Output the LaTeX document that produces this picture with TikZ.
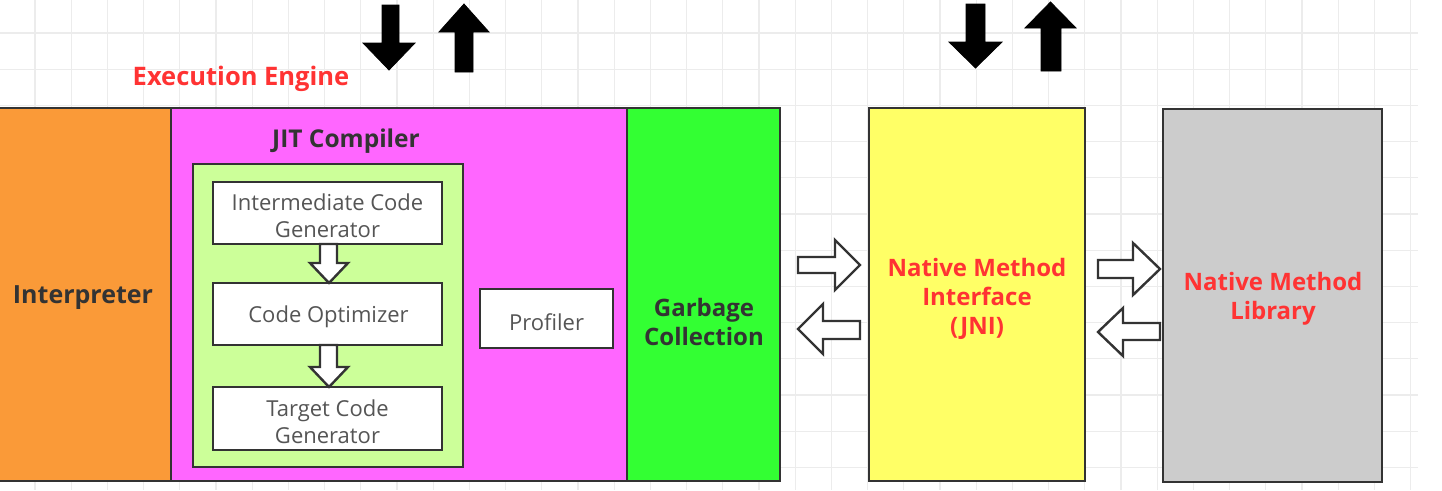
\documentclass[tikz,border=0pt]{standalone}
\usepackage{fontspec}
\setmainfont{Open Sans}
\definecolor{cOrange}{RGB}{250,154,56}
\definecolor{cMagenta}{RGB}{255,102,255}
\definecolor{cGreen}{RGB}{51,255,51}
\definecolor{cLight}{RGB}{204,255,153}
\definecolor{cYellow}{RGB}{255,255,102}
\definecolor{cGray}{RGB}{204,204,204}
\definecolor{cRed}{RGB}{255,51,51}
\definecolor{cDark}{RGB}{51,51,51}
\definecolor{cText}{RGB}{85,85,85}
\definecolor{cGrid}{RGB}{236,236,236}
\begin{document}
\begin{tikzpicture}[x=1pt,y=-1pt,
  box/.style={draw=cDark,line width=2.6pt,inner sep=0pt,align=center},
  smallbox/.style={box,fill=white},
  smalltxt/.style={inner sep=0pt,align=center,text=cText,font=\fontsize{22}{27}\selectfont},
  hollow/.style={draw=cDark,fill=white,line width=2.4pt,line join=miter},
  solidarrow/.style={fill=black,draw=black,line width=0.8pt,line join=miter},
  lbl/.style={inner sep=0pt,align=center,font=\fontsize{#1}{29}\selectfont\bfseries},
  lbl/.default=24]
\useasboundingbox (0,0) rectangle (1442,490);
\fill[white] (0,0) rectangle (1442,490);
% grid
\begin{scope}
\clip (0,0) rectangle (1418,490);
\foreach \i in {0,...,38} \draw[cGrid,line width=1.2pt] ({35+36.2*\i},0) -- ({35+36.2*\i},490);
\foreach \j in {0,...,12} \draw[cGrid,line width=1.2pt] (0,{33+36.2*\j}) -- (1418,{33+36.2*\j});
\end{scope}
% main blocks
\node[box,fill=cOrange,minimum width=178pt,minimum height=373pt] (interp) at (82,294.5) {};
\node[box,fill=cMagenta,minimum width=456pt,minimum height=373pt] (jit) at (399,294.5) {};
\node[box,fill=cGreen,minimum width=153pt,minimum height=373pt] (gc) at (703.5,294.5) {};
\node[box,fill=cYellow,minimum width=216pt,minimum height=373pt] (jni) at (977,294.5) {};
\node[box,fill=cGray,minimum width=219pt,minimum height=373pt] (nml) at (1272.5,295.5) {};
% labels of main blocks
\node[lbl=25,text=cDark] (interpl) at (83,298) {Interpreter};
\node[lbl,text=cDark] (gcl) at (704,322) {Garbage\\Collection};
\node[lbl,text=cRed] (jnil) at (977,299) {Native Method\\Interface\\(JNI)};
\node[lbl,text=cRed] (nmll) at (1273,298.5) {Native Method\\Library};
% JIT contents
\node[lbl=24.5,text=cDark] (jitlbl) at (346,141) {JIT Compiler};
\node[box,fill=cLight,minimum width=270pt,minimum height=303pt] (inner) at (328,315.5) {};
\node[smallbox,minimum width=229pt,minimum height=62pt] (ic) at (327.5,213) {};
\node[smallbox,minimum width=229pt,minimum height=62pt] (co) at (327.5,314) {};
\node[smallbox,minimum width=229pt,minimum height=63pt] (tg) at (327.5,418.5) {};
\node[smallbox,minimum width=133pt,minimum height=59pt] (prof) at (546.5,318.5) {};
\node[smalltxt] (icl) at (327.5,216) {Intermediate Code\\Generator};
\node[smalltxt] (col) at (328.5,317) {Code Optimizer};
\node[smalltxt] (tgl) at (327.5,422) {Target Code\\Generator};
\node[smalltxt] (profl) at (546.5,322) {Profiler};
% title
\node[lbl=25.5,text=cRed] (ee) at (241,79) {Execution Engine};
% hollow down arrows inside JIT
\draw[hollow] (320,244) -- (320,263) -- (310,263) -- (329,283) -- (348,263) -- (337,263) -- (337,244) -- cycle;
\draw[hollow] (320,345) -- (320,367) -- (310,367) -- (329,387) -- (348,367) -- (337,367) -- (337,345) -- cycle;
% hollow horizontal arrows gc <-> jni
\draw[hollow] (798,257) -- (835,257) -- (835,240) -- (860,265) -- (835,290) -- (835,273) -- (798,273) -- cycle;
\draw[hollow] (860,321) -- (823,321) -- (823,304) -- (798,329) -- (823,354) -- (823,339) -- (860,339) -- cycle;
% hollow horizontal arrows jni <-> nml
\draw[hollow] (1098,260) -- (1133,260) -- (1133,243) -- (1160,269) -- (1133,295) -- (1133,278) -- (1098,278) -- cycle;
\draw[hollow] (1160,323) -- (1123,323) -- (1123,308) -- (1098,332) -- (1123,356) -- (1123,340) -- (1160,340) -- cycle;
% black arrows top
\fill[solidarrow] (382,5) -- (399,5) -- (399,43) -- (415,43) -- (389,70) -- (363,43) -- (382,43) -- cycle;
\fill[solidarrow] (455,72) -- (473,72) -- (473,32) -- (489,32) -- (464,4) -- (439,32) -- (455,32) -- cycle;
\fill[solidarrow] (966,4) -- (985,4) -- (985,42) -- (1002,42) -- (975.5,68) -- (949,42) -- (966,42) -- cycle;
\fill[solidarrow] (1041,71) -- (1061,71) -- (1061,28) -- (1076,28) -- (1050.5,2) -- (1025,28) -- (1041,28) -- cycle;
\end{tikzpicture}
\end{document}
